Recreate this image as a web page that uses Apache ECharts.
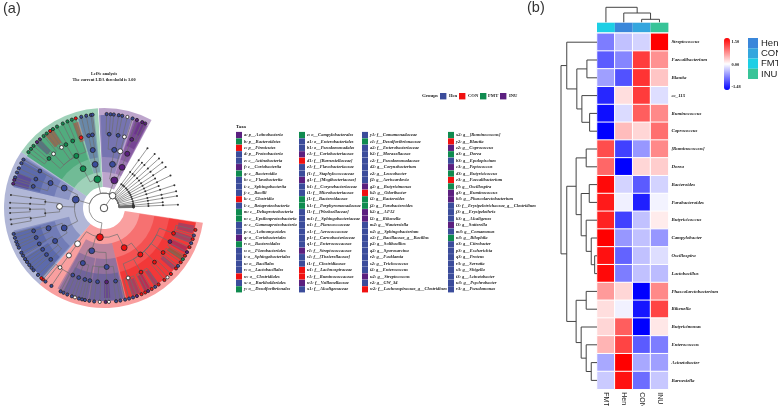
<!DOCTYPE html>
<html><head><meta charset="utf-8">
<style>html,body{margin:0;padding:0;background:#fff}#c{width:778px;height:406px}</style>
<script src="https://cdn.jsdelivr.net/npm/echarts@6/dist/echarts.min.js"></script>
</head><body><div id="c"></div>
<script>
const groupColors={H:'#3B4C9B',C:'#F01010',F:'#0F8B4F',I:'#5B1F7F'};
const groupNames=['Hen','CON','FMT','INU'];
const groupCodes=['H','C','F','I'];
const taxa1=['a: p__Actinobacteria','b: p__Bacteroidetes','c: p__Firmicutes','d: p__Proteobacteria','e: c__Actinobacteria','f: c__Coriobacteriia','g: c__Bacteroidia','h: c__Flavobacteriia','i: c__Sphingobacteriia','j: c__Bacilli','k: c__Clostridia','l: c__Betaproteobacteria','m: c__Deltaproteobacteria','n: c__Epsilonproteobacteria','o: c__Gammaproteobacteria','p: o__Actinomycetales','q: o__Coriobacteriales','r: o__Bacteroidales','s: o__Flavobacteriales','t: o__Sphingobacteriales','u: o__Bacillales','v: o__Lactobacillales','w: o__Clostridiales','x: o__Burkholderiales','y: o__Desulfovibrionales'];
const taxa2=['z: o__Campylobacterales','a1: o__Enterobacteriales','b1: o__Pseudomonadales','c1: f__Coriobacteriaceae','d1: f__[Barnesiellaceae]','e1: f__Flavobacteriaceae','f1: f__Staphylococcaceae','g1: f__[Mogibacteriaceae]','h1: f__Corynebacteriaceae','i1: f__Microbacteriaceae','j1: f__Bacteroidaceae','k1: f__Porphyromonadaceae','l1: f__[Weeksellaceae]','m1: f__Sphingobacteriaceae','n1: f__Planococcaceae','o1: f__Aerococcaceae','p1: f__Carnobacteriaceae','q1: f__Enterococcaceae','r1: f__Streptococcaceae','s1: f__[Tissierellaceae]','t1: f__Clostridiaceae','u1: f__Lachnospiraceae','v1: f__Ruminococcaceae','w1: f__Veillonellaceae','x1: f__Alcaligenaceae'];
const taxa3=['y1: f__Comamonadaceae','z1: f__Desulfovibrionaceae','a2: f__Enterobacteriaceae','b2: f__Moraxellaceae','c2: f__Pseudomonadaceae','d2: g__Corynebacterium','e2: g__Leucobacter','f2: g__Aeriscardovia','g2: g__Butyricimonas','h2: g__Odoribacter','i2: g__Bacteroides','j2: g__Parabacteroides','k2: g__AF12','l2: g__Rikenella','m2: g__Wautersiella','n2: g__Sphingobacterium','o2: f__Bacillaceae_g__Bacillus','p2: g__Solibacillus','q2: g__Sporosarcina','r2: g__Facklamia','s2: g__Trichococcus','t2: g__Enterococcus','u2: g__Streptococcus','v2: g__GW_34','w2: f__Lachnospiraceae_g__Clostridium'];
const taxa4=['x2: g__[Ruminococcus]','y2: g__Blautia','z2: g__Coprococcus','a3: g__Dorea','b3: g__Epulopiscium','c3: g__Peptococcus','d3: g__Butyricicoccus','e3: g__Faecalibacterium','f3: g__Oscillospira','g3: g__Ruminococcus','h3: g__Phascolarctobacterium','i3: f__Erysipelotrichaceae_g__Clostridium','j3: g__Erysipelothrix','k3: g__Alcaligenes','l3: g__Sutterella','m3: g__Comamonas','n3: g__Bilophila','o3: g__Citrobacter','p3: g__Escherichia','q3: g__Proteus','r3: g__Serratia','s3: g__Shigella','t3: g__Acinetobacter','u3: g__Psychrobacter','v3: g__Pseudomonas'];
const taxaGroups1='IFCHHIFHHHCHFFHHIFHHHHCHF';
const taxaGroups2='FHHICHHIHHFFHHHHHHIHHCCIH';
const taxaGroups3='HFHHHHHHICFFIIHHHHHHHHIHC';
const taxaGroups4='FCIFHIFCFIIHHHIHFHHHHHHHH';

// cladogram shaded clades: [inner radius, outer radius, start angle, end angle, group]
const phylumBands=[[21,100,61.6,93,'I'],[21,100,93.5,146,'F'],[21,100,146,230,'H'],[21,100,230,351.5,'C']];
const classBands=[[36,93,72.5,93,'H'],[36,93,62,71.5,'I'],[36,93,96,106.5,'H'],[36,93,107,146,'F'],[36,93,147,167,'H'],[36,93,194,229,'H'],[36,93,240,283,'H'],[36,93,283,351,'C']];
const orderBands=[[51,93,73,92,'H'],[51,93,62.5,71,'I'],[51,93,97,106,'H'],[51,93,108,146,'F'],[51,93,148,167,'H'],[51,93,195,228,'H'],[51,93,241,260,'H'],[51,93,261,283,'H'],[51,93,284,351,'C']];
const familyBands=[[66,93,63,70,'I'],[66,93,284,351,'C'],[66,93,196,210,'H'],[66,93,212,228,'H'],[66,93,150,166,'H'],[66,93,244,282,'H'],[78,92,158,166,'I'],[70,90,106.5,110,'C'],[78,93,123,129,'C'],[78,93,133,137,'I'],[75,90,270,274,'I'],[76,92,288,293,'H'],[76,92,296,300,'I'],[76,92,303,306,'H'],[76,92,318,321,'H'],[76,92,326,329,'F'],[76,92,331,335,'I'],[76,92,338,342,'H'],[76,92,344,349,'H'],[80,92,64,68,'I']];

const levelRadius=[0,15,29.5,44.5,59,74,94];
// rays of the unmarked fan: [angle, deepest level]
const fanRays=[[1,2],[1.5,2],[2,2],[2.5,2],[3,2],[3.5,2],[4,2],[4.5,2],[5,2],[5.5,2],[6,2],[2.6,5],[5.5,4],[9.4,5],[13,5],[18,5],[22,4],[26,5],[30,4],[33.6,5],[38,5],[42,5],[46.8,5],[50,4],[54,5]];
// nested clades below the kingdom node: [angle, group, children]
const firmicutes=[262,'C',[
  [233.5,'N',[[233.5,'N',[[233.5,'N',[[229.5,'C'],[231.5,'H'],[236,'H'],[242.5,'H']]]]]]],
  [254,'H',[
    [249,'H',[[245,'H',[[244.5,'H'],[247,'H']]],[250,'H',[[250,'H'],[252,'N']]],[255,'H',[[254.5,'H'],[256.5,'H']]]]],
    [272.6,'H',[[259,'H',[[258.3,'H'],[261,'H']]],[265,'H',[[264,'H'],[267.4,'N']]],[272,'I',[[271,'I'],[273,'N']]],[279,'H',[[277.4,'H'],[280,'H'],[283,'H']]]]]
  ]],
  [297,'C',[[308,'C',[
    [289,'N',[[285.5,'H'],[288,'H'],[290.5,'I'],[293.5,'C']]],
    [300,'C',[[296,'C'],[298,'I'],[300.5,'C'],[303,'H'],[305.5,'C']]],
    [313,'C',[[310,'C'],[312.5,'N'],[315.4,'C']]],
    [323,'C',[[320,'C'],[322,'H'],[324.7,'C'],[327,'F']]],
    [333,'I',[[329.5,'C'],[332,'I'],[335.4,'C']]],
    [340,'C',[[338,'H'],[340.6,'C'],[343,'H'],[346.5,'C']]]
  ]]]]
]];
const proteobacteria=[163.4,'H',[
  [153.4,'H',[[155,'H',[[150,'H',[[149,'H'],[151.5,'H']]],[157,'H',[[155,'H'],[157.8,'H']]],[163,'H',[[161,'H'],[162.6,'I'],[165,'I']]]]]]],
  [178,'N',[[174,'U',[[172,'U',[[172,'U']]],[176.8,'U',[[176.8,'U']]]]],[185,'U',[[181,'U',[[180,'U'],[183,'U']]],[188,'U',[[187,'U'],[190,'U']]]]]]],
  [206.6,'H',[
    [200,'H',[[198,'H',[[196,'H'],[198.5,'H'],[201,'H']]],[203.5,'H',[[203,'H'],[205,'H']]]]],
    [214,'H',[[209,'H',[[208.4,'H'],[210.5,'H']]],[214,'H',[[212.9,'H'],[215,'H']]],[219,'H',[[217.3,'H'],[219.5,'H']]],[224,'H',[[221.5,'H'],[225.4,'H'],[228.2,'C']]]]]
  ]]
]];
const bacteroidetes=[103,'F',[
  [101.5,'H',[[101,'H',[[102,'H',[[100.9,'H'],[104,'H']]],[99,'H',[[98,'H'],[97,'H']]]]]]],
  [118,'F',[[118,'F',[
    [108,'C',[[107.5,'C'],[110,'F']]],
    [115,'F',[[112.9,'F'],[116,'F']]],
    [121,'F',[[122.9,'F'],[120,'F']]],
    [125,'N',[[127.6,'F'],[125,'C']]],
    [133,'N',[[130,'F'],[133,'I']]],
    [138,'F',[[135.5,'I'],[138.6,'F'],[141,'F'],[143.5,'F']]]
  ]]]]
]];
const actinobacteria=[69.5,'I',[
  [79,'H',[
    [80,'H',[
      [86,'H',[[88.4,'H'],[86,'H'],[84,'H']]],
      [79,'H',[[81,'H'],[78.8,'H']]]
    ]],
    [74,'N',[[74,'N',[[75.6,'N'],[72.3,'H']]]]]
  ]],
  [66,'I',[[66.8,'I',[[68,'I',[[66,'I'],[64,'I'],[69.5,'I']]]]]]]
]];

// heatmap
const heatColumns=['FMT','Hen','CON','INU'];
const heatRows=['Streptococcus','Faecalibacterium','Blautia','cc_115','Ruminococcus','Coprococcus','[Ruminococcus]','Dorea','Bacteroides','Parabacteroides','Butyricicoccus','Campylobacter','Oscillospira','Lactobacillus','Phascolarctobacterium','Rikenella','Butyricimonas','Enterococcus','Acinetobacter','Barnesiella'];
const heatFMT=[-0.75,-0.95,-0.55,-1.25,-1.4,-1.48,1.05,0.9,1.45,1.35,1.3,1.5,1.4,1.45,0.6,0.2,0.25,0.45,-0.5,-0.3];
const heatHen=[-0.35,-0.7,-1.0,0.2,-0.2,0.4,-1.1,-1.48,-0.25,-0.08,-1.1,-0.6,-0.9,-0.75,0.25,-0.07,0.95,1.1,1.5,1.4];
const heatCON=[-0.25,1.15,1.2,1.15,0.95,0.25,-0.6,0.25,-0.95,-1.3,-0.35,-0.35,-0.35,-0.35,-1.48,-1.35,-1.48,-0.95,-0.5,-0.85];
const heatINU=[1.5,0.65,0.35,-0.18,0.7,0.85,0.7,0.3,-0.25,-0.06,0.12,-0.6,-0.18,-0.38,0.7,1.1,0.15,-0.75,-0.55,-0.32];
const annotColors={FMT:'#1DCFE5',Hen:'#3A87DA',CON:'#34A6DE',INU:'#38C498'};
const annotLegend=['Hen','CON','FMT','INU'];
// dendrogram merges: [a, b, height]; a/b below the leaf count are leaves, others earlier merges
const rowMerges=[[1,2,.28],[4,5,.205],[3,21,.42],[20,22,.56],[0,23,.84],[6,7,.30],[8,9,.215],[12,13,.065],[11,27,.16],[10,28,.30],[26,29,.44],[25,30,.58],[14,15,.30],[18,19,.16],[17,33,.30],[16,34,.44],[32,35,.58],[31,36,.84],[24,37,1]];
const colMerges=[[2,3,.2],[1,4,.62],[0,5,1]];
const scaleTicks=[['1.50',41.5],['0.00',64.5],['-1.48',87]];

function hexRgba(hex,a){const n=parseInt(hex.slice(1),16);return `rgba(${n>>16},${(n>>8)&255},${n&255},${a})`;}

// flatten the cladogram
const treeRoot=[0,'N',[[55,'N',[...fanRays.map(r=>{let node=[r[0],'U'];for(let d=r[1];d>2;d--)node=[r[0],'U',[node]];return node;}),firmicutes,proteobacteria,bacteroidetes,actinobacteria]]]];
const edges=[],nodes=[];
(function walk(n,depth,parent){
  nodes.push([levelRadius[depth],n[0],n[1],depth]);
  if(parent)edges.push([levelRadius[depth],n[0],levelRadius[depth-1],parent[0]]);
  (n[2]||[]).forEach(c=>walk(c,depth+1,n));
})(treeRoot,0,null);
const nodeSizes=[7.5,6.5,6.8,5.8,5,3.8,3.2];

function sectorItem(alpha){return function(p,api){
  const cs=p.coordSys,a=api.coord([api.value(1),api.value(2)]),b=api.coord([api.value(0),api.value(2)]);
  const r1=Math.hypot(a[0]-cs.cx,a[1]-cs.cy),r0=Math.hypot(b[0]-cs.cx,b[1]-cs.cy);
  return {type:'sector',shape:{cx:cs.cx,cy:cs.cy,r0:r0,r:r1,startAngle:-api.value(3)*Math.PI/180,endAngle:-api.value(2)*Math.PI/180,clockwise:true},
    style:{fill:hexRgba(groupColors[groupCodes[api.value(4)]],alpha),stroke:null}};
};}
function bandSeries(bands,alpha,z){return {type:'custom',coordinateSystem:'polar',polarIndex:0,silent:true,z:z,animation:false,
  clip:false,encode:{radius:0,angle:2},renderItem:sectorItem(alpha),data:bands.map(b=>[b[0],b[1],b[2],b[3],groupCodes.indexOf(b[4])])};}

function treeLink(p,api){
  const cs=p.coordSys,r=api.value(0),a=api.value(1),pr=api.value(2),pa=api.value(3);
  const c1=api.coord([r,a]),c0=api.coord([pr,a]),cp=api.coord([pr,pa]);
  const rp=Math.hypot(cp[0]-cs.cx,cp[1]-cs.cy);
  const lo=Math.min(a,pa),hi=Math.max(a,pa);
  const st={stroke:'#6f6f6f',lineWidth:.7,fill:null};
  const ch=[{type:'line',shape:{x1:c0[0],y1:c0[1],x2:c1[0],y2:c1[1]},style:st}];
  if(hi>lo&&rp>0)ch.push({type:'arc',shape:{cx:cs.cx,cy:cs.cy,r:rp,startAngle:-hi*Math.PI/180,endAngle:-lo*Math.PI/180,clockwise:true},style:st});
  return {type:'group',children:ch};
}
function linkItem(p,api){
  const horizontal=api.value(5)===1;
  const pt=(h,q)=>horizontal?api.coord([h,q]):api.coord([q,h]);
  return {type:'polyline',shape:{points:[pt(api.value(0),api.value(1)),pt(api.value(4),api.value(1)),pt(api.value(4),api.value(3)),pt(api.value(2),api.value(3))]},
    style:{stroke:'#444',lineWidth:1,fill:null}};
}
function mergeLinks(merges,n,horizontal){
  const pos=[],hts=[];for(let i=0;i<n;i++){pos[i]=i;hts[i]=0;}
  return merges.map((m,k)=>{const id=n+k;pos[id]=(pos[m[0]]+pos[m[1]])/2;hts[id]=m[2];
    return [hts[m[0]],pos[m[0]],hts[m[1]],pos[m[1]],m[2],horizontal?1:0];});
}

// graphics: texts and swatches
const serif='"Liberation Serif"';
const gfx=[];
function txt(t,x,y,font,opts){gfx.push({type:'text',silent:true,x:x,y:y,style:Object.assign({text:t,font:font,fill:'#1a1a1a',textVerticalAlign:'middle',verticalAlign:'middle'},opts||{})});}
function rect(x,y,w,h,c){gfx.push({type:'rect',silent:true,shape:{x:x,y:y,width:w,height:h},style:{fill:c}});}
txt('(a)',3,9,'14.5px "Liberation Sans"',{fill:'#333'});
txt('(b)',527,8,'14.5px "Liberation Sans"',{fill:'#333'});
txt('LefSe analysis',104,74,'bold 4.3px '+serif,{textAlign:'center',align:'center'});
txt('The current LDA threshold is 3.00',104,80,'bold 4.3px '+serif,{textAlign:'center',align:'center'});
txt('Taxa',236,127,'bold 4.8px '+serif);
txt('Groups',422,96,'bold 5px '+serif);
[[440,449],[459,468],[480,488],[500,509]].forEach((p,i)=>{rect(p[0],93,6.4,6.4,groupColors[groupCodes[i]]);txt(groupNames[i],p[1],96,'bold 4.6px '+serif);});
[[taxa1,taxaGroups1,236],[taxa2,taxaGroups2,299],[taxa3,taxaGroups3,362],[taxa4,taxaGroups4,448]].forEach(col=>{
  col[0].forEach((t,i)=>{const y=135+6.43*i;rect(col[2],y-3.1,6,6.2,groupColors[col[1][i]]);txt(t,col[2]+8,y,'italic bold 4.5px '+serif);});
});
scaleTicks.forEach(t=>txt(t[0],731.5,t[1],'bold 4.4px '+serif));

const heatData=[];
[heatFMT,heatHen,heatCON,heatINU].forEach((col,x)=>col.forEach((v,y)=>heatData.push([x,y,v])));

const chart=echarts.init(document.getElementById('c'),null,{renderer:'canvas'});
chart.setOption({
  animation:false,backgroundColor:'#fff',
  polar:{center:[104,208],radius:100},
  angleAxis:{type:'value',min:0,max:360,startAngle:0,clockwise:false,show:false},
  radiusAxis:{type:'value',min:0,max:100,show:false},
  grid:[
    {left:597,width:71.4,top:33.3,height:356,outerBoundsMode:'none'},
    {left:561,width:36,top:33.3,height:356,outerBoundsMode:'none'},
    {left:597,width:71.4,top:7.3,height:15,outerBoundsMode:'none'},
    {left:597,width:71.4,top:22.7,height:9.5,outerBoundsMode:'none'},
    {left:748,width:10,top:38,height:41,outerBoundsMode:'none'}
  ],
  xAxis:[
    {gridIndex:0,type:'category',data:heatColumns,axisLine:{show:false},axisTick:{show:false},splitLine:{show:false},axisLabel:{rotate:-90,fontFamily:'Liberation Sans',fontSize:7,color:'#222',margin:3}},
    {gridIndex:1,type:'value',min:0,max:1,inverse:true,show:false},
    {gridIndex:2,type:'value',min:-.5,max:3.5,show:false},
    {gridIndex:3,type:'category',data:heatColumns,show:false},
    {gridIndex:4,type:'value',min:0,max:1,show:false}
  ],
  yAxis:[
    {gridIndex:0,type:'category',data:heatRows,inverse:true,position:'right',axisLine:{show:false},axisTick:{show:false},splitLine:{show:false},axisLabel:{interval:0,fontFamily:'Liberation Serif',fontStyle:'italic',fontWeight:'bold',fontSize:4.9,color:'#1a1a1a',margin:3}},
    {gridIndex:1,type:'value',min:-.5,max:19.5,inverse:true,show:false},
    {gridIndex:2,type:'value',min:0,max:1,show:false},
    {gridIndex:3,type:'value',min:0,max:1,show:false},
    {gridIndex:4,type:'category',data:annotLegend,inverse:true,position:'right',axisLine:{show:false},axisTick:{show:false},axisLabel:{interval:0,fontFamily:'Liberation Sans',fontSize:9.5,color:'#222',margin:3,hideOverlap:false}}
  ],
  visualMap:{type:'continuous',seriesIndex:0,min:-1.48,max:1.5,left:724,top:38,itemWidth:6,itemHeight:52,text:null,showLabel:false,calculable:false,hoverLink:false,padding:0,inRange:{color:['#0000ff','#ffffff','#ff0000']}},
  series:[
    {type:'heatmap',xAxisIndex:0,yAxisIndex:0,data:heatData,itemStyle:{borderColor:'#fff',borderWidth:1},emphasis:{disabled:true},label:{show:false}},
    {type:'custom',coordinateSystem:'cartesian2d',xAxisIndex:1,yAxisIndex:1,silent:true,renderItem:linkItem,encode:{x:0,y:1},data:mergeLinks(rowMerges,20,true)},
    {type:'custom',coordinateSystem:'cartesian2d',xAxisIndex:2,yAxisIndex:2,silent:true,renderItem:linkItem,encode:{x:1,y:0},data:mergeLinks(colMerges,4,false)},
    {type:'bar',xAxisIndex:3,yAxisIndex:3,barWidth:'100%',silent:true,data:heatColumns.map(c=>({value:1,itemStyle:{color:annotColors[c]}}))},
    {type:'bar',xAxisIndex:4,yAxisIndex:4,barWidth:'100%',silent:true,data:annotLegend.map(c=>({value:1,itemStyle:{color:annotColors[c]}}))},
    bandSeries(phylumBands,.4,1),
    bandSeries(classBands,.32,2),
    bandSeries(orderBands,.32,3),
    bandSeries(familyBands,.38,4),
    {type:'custom',coordinateSystem:'polar',silent:true,z:5,clip:false,renderItem:treeLink,encode:{radius:0,angle:1},data:edges},
    {type:'scatter',coordinateSystem:'polar',silent:true,z:6,clip:false,
      data:nodes.map(n=>({value:[n[0],n[1]],symbolSize:n[2]==='U'?2:nodeSizes[n[3]],
        itemStyle:{color:n[2]==='U'?'#333':(n[2]==='N'?'#fff':groupColors[n[2]]),borderColor:'#222',borderWidth:n[2]==='U'?0:.8,opacity:1}}))}
  ],
  graphic:{elements:gfx}
});
</script></body></html>
